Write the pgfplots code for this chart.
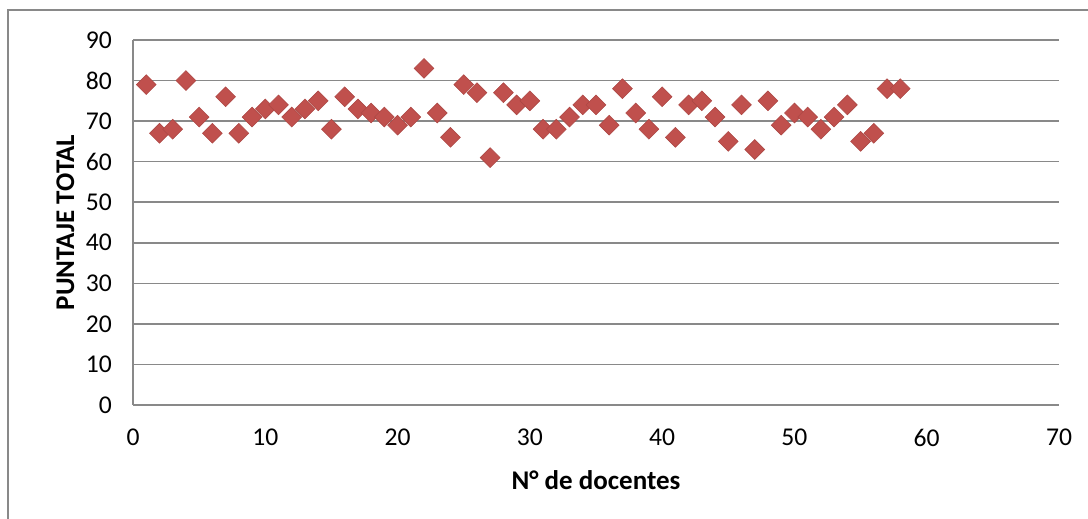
\documentclass[border=0pt]{standalone}
\usepackage{fontspec}
\setmainfont{Carlito}
\usepackage{pgfplots}
\pgfplotsset{compat=1.18}
\definecolor{gridgray}{HTML}{898989}
\definecolor{markred}{HTML}{C0504D}

\begin{document}
\begin{tikzpicture}
\useasboundingbox (0,0) rectangle (544pt,259.5pt);
% outer chart frame (only left and top visible)
\draw[gridgray, line width=0.6pt] (4pt,0) -- (4pt,254.5pt) -- (544pt,254.5pt);
\begin{axis}[
    at={(66.5pt,57pt)}, anchor=south west,
    scale only axis, width=463pt, height=182.5pt,
    xmin=0, xmax=70, ymin=0, ymax=90,
    xtick distance=10, ytick distance=10,
    axis x line=bottom, axis y line=left,
    axis line style={gridgray, line width=0.75pt, -},
    ymajorgrids, grid style={gridgray, line width=0.75pt},
    major tick length=0pt,
    /pgf/number format/assume math mode=true,
    ticklabel style={font=\fontsize{12.8}{15}\selectfont},
    x tick label style={yshift=-8.5pt},
    y tick label style={xshift=-7pt},
    xlabel={\textbf{N° de docentes}},
    ylabel={\textbf{PUNTAJE TOTAL}},
    label style={font=\fontsize{13.5}{16}\selectfont},
    xlabel style={yshift=-5pt},
    ylabel style={yshift=-1pt},
    clip=false,
]
\addplot[only marks, mark=square*, mark size=3.5pt,
    mark options={rotate=45, fill=markred, draw=markred!90!black, line width=0.3pt}]
coordinates {
(1,79)(2,67)(3,68)(4,80)(5,71)(6,67)(7,76)(8,67)(9,71)(10,73)
(11,74)(12,71)(13,73)(14,75)(15,68)(16,76)(17,73)(18,72)(19,71)(20,69)
(21,71)(22,83)(23,72)(24,66)(25,79)(26,77)(27,61)(28,77)(29,74)(30,75)
(31,68)(32,68)(33,71)(34,74)(35,74)(36,69)(37,78)(38,72)(39,68)(40,76)
(41,66)(42,74)(43,75)(44,71)(45,65)(46,74)(47,63)(48,75)(49,69)(50,72)
(51,71)(52,68)(53,71)(54,74)(55,65)(56,67)(57,78)(58,78)
};
\end{axis}
\end{tikzpicture}
\end{document}
